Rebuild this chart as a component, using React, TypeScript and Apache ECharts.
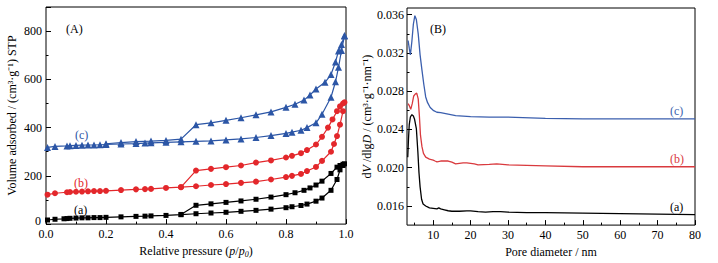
import React, { useEffect, useRef } from "react";
import * as echarts from "echarts";

// ---------- Panel (A): N2 adsorption-desorption isotherms ----------
const P_A_ADS = [0.005, 0.03, 0.06, 0.07, 0.08, 0.1, 0.12, 0.14, 0.16, 0.18, 0.2, 0.25, 0.3, 0.33, 0.35, 0.4, 0.45, 0.5, 0.55, 0.6, 0.65, 0.7, 0.75, 0.8, 0.82, 0.85, 0.87, 0.9, 0.92, 0.95, 0.97, 0.98, 0.99];
const V_A_ADS = [17, 20, 22, 23, 24, 25, 26, 26, 27, 27, 28, 30, 32, 33, 34, 36, 39, 43, 46, 49, 53, 57, 62, 68, 72, 77, 83, 95, 108, 140, 185, 225, 243];
const P_A_DES = [0.995, 0.99, 0.98, 0.97, 0.95, 0.92, 0.9, 0.88, 0.86, 0.83, 0.8, 0.75, 0.7, 0.65, 0.6, 0.55, 0.5, 0.45];
const V_A_DES = [250, 248, 243, 236, 210, 178, 162, 150, 140, 130, 122, 112, 103, 96, 90, 84, 78, 40];

const P_B_ADS = [0.005, 0.03, 0.07, 0.08, 0.1, 0.12, 0.14, 0.16, 0.18, 0.2, 0.25, 0.3, 0.33, 0.35, 0.4, 0.45, 0.5, 0.55, 0.6, 0.65, 0.7, 0.75, 0.8, 0.82, 0.85, 0.87, 0.9, 0.92, 0.95, 0.96, 0.97, 0.98, 0.99];
const V_B_ADS = [122, 128, 132, 133, 134, 135, 136, 137, 137, 138, 141, 144, 145, 146, 150, 153, 157, 162, 166, 171, 176, 185, 195, 200, 208, 220, 237, 262, 300, 332, 365, 412, 468];
const P_B_DES = [0.995, 0.99, 0.98, 0.97, 0.955, 0.94, 0.92, 0.9, 0.87, 0.85, 0.82, 0.8, 0.75, 0.7, 0.65, 0.6, 0.55, 0.5, 0.45];
const V_B_DES = [505, 500, 488, 468, 434, 400, 362, 330, 307, 294, 283, 276, 264, 255, 243, 236, 229, 222, 153];

const P_C_ADS = [0.005, 0.03, 0.07, 0.08, 0.1, 0.12, 0.14, 0.16, 0.18, 0.2, 0.25, 0.3, 0.33, 0.35, 0.4, 0.45, 0.5, 0.55, 0.6, 0.65, 0.7, 0.75, 0.8, 0.82, 0.85, 0.87, 0.9, 0.92, 0.95, 0.965, 0.975, 0.985, 0.995];
const V_C_ADS = [318, 322, 324, 325, 326, 327, 328, 328, 329, 330, 332, 334, 336, 337, 339, 341, 343, 345, 349, 353, 359, 367, 376, 381, 389, 400, 420, 455, 526, 590, 650, 720, 780];
const P_C_DES = [0.995, 0.985, 0.975, 0.965, 0.95, 0.93, 0.9, 0.88, 0.86, 0.83, 0.8, 0.75, 0.7, 0.65, 0.6, 0.55, 0.5, 0.45, 0.4, 0.35, 0.3, 0.25, 0.2];
const V_C_DES = [782, 745, 718, 672, 620, 588, 560, 535, 514, 497, 484, 465, 453, 441, 430, 420, 412, 352, 347, 344, 342, 338, 333];

const A_Y_TICKS = [0, 200, 400, 600, 800];

// ---------- Panel (B): pore size distribution ----------
const D_A = [3.2, 3.4, 3.6, 3.9, 4.3, 4.7, 5.0, 5.5, 5.9, 6.2, 6.5, 6.9, 7.3, 8, 9, 10, 11, 11.5, 12, 13, 14, 15, 17, 19, 20, 22, 24, 26, 28, 30, 35, 40, 50, 60, 70, 80];
const Y_A = [0.0211, 0.0230, 0.0245, 0.0253, 0.02555, 0.0254, 0.0251, 0.0241, 0.0217, 0.0195, 0.0180, 0.0167, 0.0162, 0.0160, 0.0158, 0.01575, 0.0157, 0.0158, 0.0157, 0.0156, 0.0155, 0.01545, 0.01545, 0.01548, 0.01548, 0.0154, 0.01535, 0.0154, 0.0154, 0.01535, 0.0153, 0.0153, 0.01525, 0.0152, 0.01515, 0.0151];

const D_B = [3.3, 3.6, 4.0, 4.4, 4.8, 5.2, 5.6, 6.0, 6.3, 6.6, 7.0, 7.4, 8, 9, 10, 10.5, 11, 12, 13, 14, 15, 16, 17, 18, 19, 20, 21, 22, 25, 27, 30, 35, 40, 50, 60, 70, 80];
const Y_B = [0.0267, 0.0265, 0.0261, 0.0267, 0.0275, 0.0277, 0.0278, 0.0272, 0.0255, 0.0234, 0.0222, 0.0215, 0.0211, 0.0209, 0.0208, 0.0207, 0.02062, 0.0207, 0.02072, 0.0207, 0.02058, 0.0204, 0.02045, 0.0205, 0.0205, 0.02045, 0.0204, 0.0203, 0.02035, 0.0204, 0.0203, 0.02025, 0.0202, 0.0201, 0.0201, 0.0201, 0.0201];

const D_C = [3.3, 3.6, 3.9, 4.3, 4.7, 5.1, 5.5, 6.0, 6.5, 7.0, 7.5, 8.0, 8.5, 9.2, 10, 11, 12, 14, 16, 18, 20, 25, 30, 40, 50, 60, 70, 80];
const Y_C = [0.0333, 0.0325, 0.0318, 0.0332, 0.0350, 0.0359, 0.0355, 0.0340, 0.0318, 0.0302, 0.0287, 0.0274, 0.0268, 0.0263, 0.0260, 0.0258, 0.02575, 0.0256, 0.02545, 0.0254, 0.02535, 0.0253, 0.0253, 0.02515, 0.0251, 0.0251, 0.0251, 0.0251];

const B_X_TICKS = [10, 20, 30, 40, 50, 60, 70, 80];
const B_X_MINOR = [5, 15, 25, 35, 45, 55, 65, 75];
const B_Y_TICKS = [0.016, 0.020, 0.024, 0.028, 0.032, 0.036];
const B_Y_MINOR = [0.018, 0.022, 0.026, 0.030, 0.034];

const BLACK = "#000000";
const RED = "#e3272b";
const BLUE = "#2c56a6";
const RED_B = "#d93a3e";
const BLUE_B = "#3b5fae";

const FONT = "'Liberation Serif', 'Times New Roman', serif";

const zip = (xs: number[], ys: number[]) => xs.map((x, i) => [x, ys[i]]);

export default function App() {
  const ref = useRef<HTMLDivElement>(null);

  useEffect(() => {
    if (!ref.current) return;
    const chart = echarts.init(ref.current, null, { renderer: "svg" });

    const labelStyle = { color: "#000", fontFamily: FONT, fontSize: 12 };
    const rich = {
      i: { fontStyle: "italic", fontFamily: FONT, fontSize: 12, color: "#000" },
      sub: { fontStyle: "italic", fontFamily: FONT, fontSize: 8, color: "#000", padding: [6, 0, 0, 0] },
    };

    const isoSeries = (name: string, xs: number[], ys: number[], color: string, symbol: string, size: number) => ({
      name,
      type: "line",
      xAxisIndex: 0,
      yAxisIndex: 0,
      data: zip(xs, ys),
      symbol,
      symbolSize: size,
      lineStyle: { color, width: 1.2 },
      itemStyle: { color },
      showSymbol: true,
    });

    const psdSeries = (name: string, xs: number[], ys: number[], color: string) => ({
      name,
      type: "line",
      xAxisIndex: 1,
      yAxisIndex: 2,
      data: zip(xs, ys),
      symbol: "none",
      lineStyle: { color, width: 1.3 },
    });

    const option: any = {
      animation: false,
      backgroundColor: "#ffffff",
      grid: [
        { left: 46, top: 7, width: 300, height: 222, show: true, borderColor: "#000", borderWidth: 1, backgroundColor: "transparent" },
        { left: 407, top: 8, width: 288, height: 221, show: true, borderColor: "#000", borderWidth: 1, backgroundColor: "transparent" },
      ],
      xAxis: [
        {
          gridIndex: 0,
          type: "value",
          min: 0,
          max: 1,
          interval: 0.2,
          axisLine: { show: false },
          axisTick: { inside: true, length: 5, lineStyle: { color: "#000" } },
          minorTick: { show: true, splitNumber: 2, length: 2.5, lineStyle: { color: "#000" } },
          splitLine: { show: false },
          axisLabel: { ...labelStyle, margin: 5, lineHeight: 10, formatter: (v: number) => v.toFixed(1) },
          name: "Relative pressure ({i|p}/{i|p}{sub|0})",
          nameLocation: "middle",
          nameGap: 14,
          nameTextStyle: { ...labelStyle, rich },
        },
        {
          gridIndex: 1,
          type: "value",
          min: 3,
          max: 80,
          axisLine: { show: false },
          axisTick: { inside: true, length: 5, customValues: B_X_TICKS, lineStyle: { color: "#000" } },
          splitLine: { show: false },
          axisLabel: { ...labelStyle, margin: 4, customValues: B_X_TICKS },
          name: "Pore diameter / nm",
          nameLocation: "middle",
          nameGap: 14,
          nameTextStyle: { ...labelStyle },
        },
        {
          gridIndex: 1,
          type: "value",
          position: "bottom",
          min: 3,
          max: 80,
          axisLine: { show: false },
          axisTick: { inside: true, length: 2.5, customValues: B_X_MINOR, lineStyle: { color: "#000" } },
          splitLine: { show: false },
          axisLabel: { show: false },
        },
      ],
      yAxis: [
        {
          gridIndex: 0,
          type: "value",
          position: "left",
          min: 0,
          max: 900,
          interval: 100,
          axisLine: { show: false },
          axisTick: { inside: true, length: 2.5, lineStyle: { color: "#000" } },
          splitLine: { show: false },
          axisLabel: {
            ...labelStyle,
            margin: 4,
            lineHeight: 10,
            formatter: (v: number) => (v === 0 ? "{z|0}" : A_Y_TICKS.indexOf(v) >= 0 ? String(v) : ""),
            rich: {
              z: { fontFamily: FONT, fontSize: 12, color: "#000", lineHeight: 10, padding: [0, 1, 6, 0] },
            },
          },
          name: "Volume adsorbed / (cm³·g⁻¹) STP",
          nameLocation: "middle",
          nameGap: 28,
          nameTextStyle: { ...labelStyle },
        },
        {
          gridIndex: 0,
          type: "value",
          position: "left",
          min: 0,
          max: 900,
          interval: 200,
          axisLine: { show: false },
          axisTick: { inside: true, length: 5, lineStyle: { color: "#000" } },
          splitLine: { show: false },
          axisLabel: { show: false },
        },
        {
          gridIndex: 1,
          type: "value",
          position: "left",
          min: 0.014,
          max: 0.0367,
          axisLine: { show: false },
          axisTick: { inside: true, length: 5, customValues: B_Y_TICKS, lineStyle: { color: "#000" } },
          splitLine: { show: false },
          axisLabel: { ...labelStyle, margin: 3, customValues: B_Y_TICKS, formatter: (v: number) => v.toFixed(3) },
          name: "d{i|V} /dlg{i|D} / (cm³·g⁻¹·nm⁻¹)",
          nameLocation: "middle",
          nameGap: 34,
          nameTextStyle: { ...labelStyle, rich },
        },
        {
          gridIndex: 1,
          type: "value",
          position: "left",
          min: 0.014,
          max: 0.0367,
          axisLine: { show: false },
          axisTick: { inside: true, length: 2.5, customValues: B_Y_MINOR, lineStyle: { color: "#000" } },
          splitLine: { show: false },
          axisLabel: { show: false },
        },
      ],
      series: [
        isoSeries("a-ads", P_A_ADS, V_A_ADS, BLACK, "rect", 5),
        isoSeries("a-des", P_A_DES, V_A_DES, BLACK, "rect", 5),
        isoSeries("b-ads", P_B_ADS, V_B_ADS, RED, "circle", 6),
        isoSeries("b-des", P_B_DES, V_B_DES, RED, "circle", 6),
        isoSeries("c-ads", P_C_ADS, V_C_ADS, BLUE, "triangle", 7),
        isoSeries("c-des", P_C_DES, V_C_DES, BLUE, "triangle", 7),
        psdSeries("a", D_A, Y_A, BLACK),
        psdSeries("b", D_B, Y_B, RED_B),
        psdSeries("c", D_C, Y_C, BLUE_B),
      ],
      graphic: [
        { type: "text", left: 66, top: 23, style: { text: "(A)", font: `12px ${FONT}`, fill: "#000" } },
        { type: "text", left: 75, top: 129, style: { text: "(c)", font: `12px ${FONT}`, fill: BLUE } },
        { type: "text", left: 74, top: 177, style: { text: "(b)", font: `12px ${FONT}`, fill: RED } },
        { type: "text", left: 74, top: 204, style: { text: "(a)", font: `12px ${FONT}`, fill: "#000" } },
        { type: "text", left: 430, top: 23, style: { text: "(B)", font: `12px ${FONT}`, fill: "#000" } },
        { type: "text", left: 670, top: 105, style: { text: "(c)", font: `12px ${FONT}`, fill: BLUE_B } },
        { type: "text", left: 670, top: 153, style: { text: "(b)", font: `12px ${FONT}`, fill: RED_B } },
        { type: "text", left: 670, top: 201, style: { text: "(a)", font: `12px ${FONT}`, fill: "#000" } },
      ],
    };

    chart.setOption(option);
    return () => chart.dispose();
  }, []);

  return (
    <div
      ref={ref}
      style={{ position: "absolute", left: 0, top: 0, width: 718, height: 263, background: "#fff" }}
    />
  );
}
